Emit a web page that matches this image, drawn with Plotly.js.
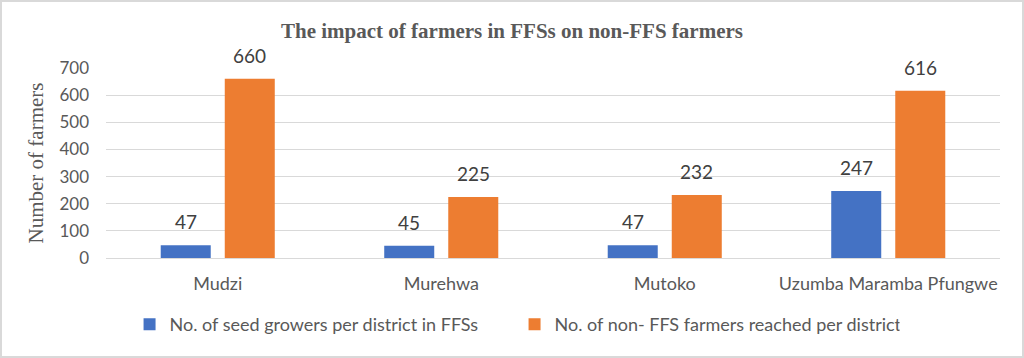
<!DOCTYPE html>
<html>
<head>
<meta charset="utf-8">
<script src="https://cdn.plot.ly/plotly-3.0.1.min.js"></script>
<style>
html,body{margin:0;padding:0;background:#fff;}
#wrap{position:relative;width:1024px;height:358px;}
#chart{width:1024px;height:358px;}
#frame{position:absolute;left:0;top:0;width:1024px;height:358px;box-sizing:border-box;border:2px solid #d9d9d9;pointer-events:none;}
</style>
</head>
<body>
<div id="wrap"><div id="chart"></div><div id="frame"></div></div>
<script>
const districts = ["Mudzi", "Murehwa", "Mutoko", "Uzumba Maramba Pfungwe"];
const seedGrowers = [47, 45, 47, 247];
const nonFFSReached = [660, 225, 232, 616];
const seriesNames = ["No. of seed growers per district in FFSs", "No. of non- FFS farmers reached per district"];
const yTicks = [0, 100, 200, 300, 400, 500, 600, 700];

const sansFont = "Lato, 'Open Sans', sans-serif";
const serifFont = "'Liberation Serif', 'DejaVu Serif', serif";
const grey = "#595959";

const traces = [
  {type: "bar", x: districts, y: seedGrowers, name: seriesNames[0], marker: {color: "#4472C4"}},
  {type: "bar", x: districts, y: nonFFSReached, name: seriesNames[1], marker: {color: "#ED7D31"}}
];

const labelFont = {family: sansFont, size: 19, color: "#404040"};
const annotations = [];
districts.forEach((d, i) => {
  annotations.push({x: d, y: seedGrowers[i], text: String(seedGrowers[i]), showarrow: false,
    xshift: -32, yshift: 10, yanchor: "bottom", font: labelFont});
  annotations.push({x: d, y: nonFFSReached[i], text: String(nonFFSReached[i]), showarrow: false,
    xshift: 32, yshift: 10, yanchor: "bottom", font: labelFont});
});

const layout = {
  width: 1024, height: 358,
  margin: {l: 106, r: 24, t: 68, b: 100},
  paper_bgcolor: "#fff", plot_bgcolor: "#fff",
  title: {text: "<b>The impact of farmers in FFSs on non-FFS farmers</b>",
          font: {family: serifFont, size: 21, color: grey},
          x: 0.5, xanchor: "center", y: 0.915, yanchor: "middle"},
  barmode: "group", bargap: 0.427, bargroupgap: 0.219,
  annotations: annotations,
  xaxis: {tickfont: {family: sansFont, size: 18, color: grey}, showline: true, linecolor: "#d9d9d9",
          linewidth: 1, ticks: "", showgrid: false, ticklabelstandoff: 9},
  yaxis: {range: [0, 700], tickvals: yTicks, tickfont: {family: sansFont, size: 17, color: grey},
          gridcolor: "#d9d9d9", gridwidth: 1, zeroline: false, ticks: "", ticklabelstandoff: 16,
          title: {text: "Number of farmers", font: {family: serifFont, size: 21, color: grey}, standoff: 10}},
  legend: {orientation: "h", x: 0.457, xanchor: "center", y: -0.35, yanchor: "middle",
           font: {family: sansFont, size: 18, color: grey}, itemwidth: 30, entrywidth: 340},
  showlegend: true
};

Plotly.newPlot("chart", traces, layout, {staticPlot: true, displayModeBar: false});
</script>
</body>
</html>
